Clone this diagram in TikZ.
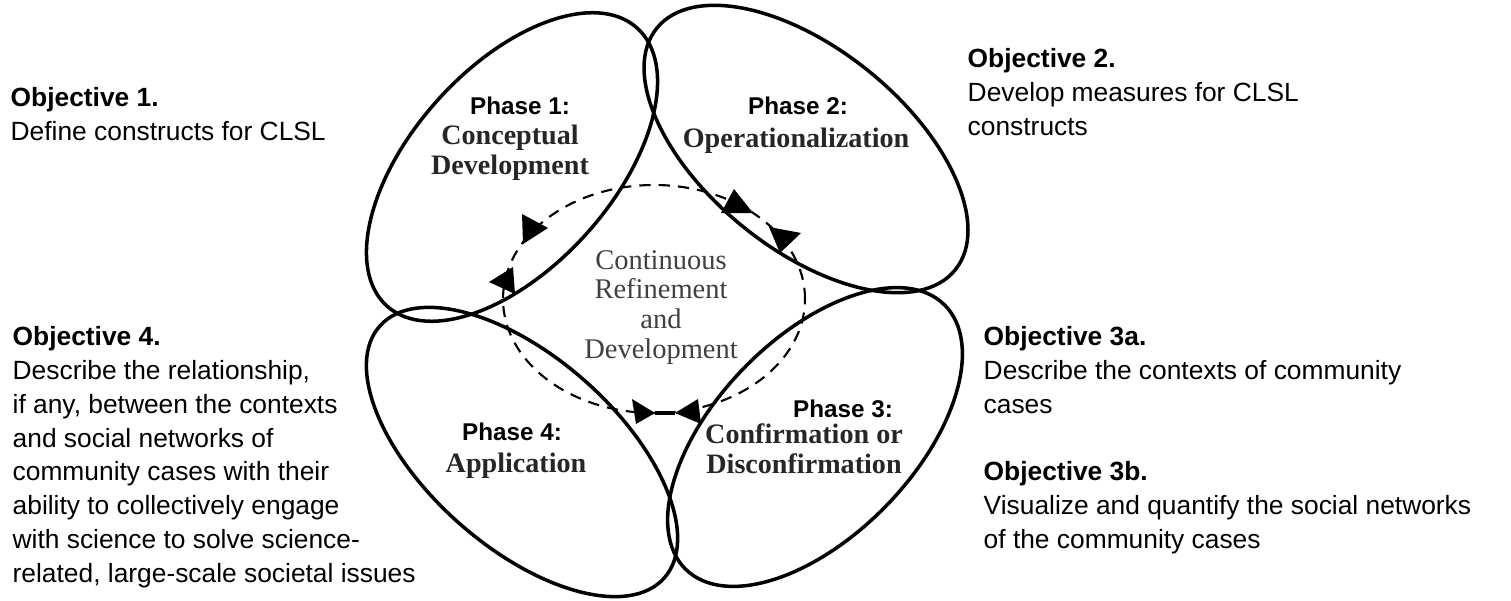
\documentclass[tikz,border=0pt]{standalone}
\usepackage{fontspec}
\setmainfont{Liberation Serif}
\setsansfont{Liberation Sans}
\begin{document}
\begin{tikzpicture}[
    objtext/.style={font=\sffamily\fontsize{7.5}{9.6}\selectfont, anchor=base west, align=left, inner sep=0pt},
    phasehead/.style={font=\sffamily\bfseries\fontsize{6.9}{8.5}\selectfont, anchor=base, inner sep=0pt},
    phasename/.style={font=\rmfamily\bfseries\fontsize{8}{8.3}\selectfont, anchor=base, align=center, inner sep=0pt, text=black!85},
    loopname/.style={font=\rmfamily\fontsize{8.1}{8.4}\selectfont, anchor=base, align=center, inner sep=0pt, text=black!75},
    phaseline/.style={line width=1pt},
    loopline/.style={line width=0.6pt, dash pattern=on 3.2pt off 2.3pt}
]
        \useasboundingbox (0, 0) rectangle (15.11, 6);

        % Draw the four phase ellipses
        \foreach \x/\y/\rx/\ry/\r in {
            5.12/4.33/1.87/1.00/48, 8.06/4.51/1.92/1.00/-39,
            8.15/1.63/1.85/0.99/45.7, 5.22/1.48/1.90/0.95/-41.5
        }
        \draw[phaseline, rotate around={\r:(\x, \y)}] (\x, \y) ellipse ({\rx} and {\ry});

        % Dashed loop in the middle
        \draw[loopline] (6.54, 3.01) ellipse (1.51 and 1.14);

        % Arrow heads on the loop
        \foreach \ax/\ay/\bx/\by/\cx/\cy in {
            5.22/3.86/5.23/3.56/5.48/3.72, 4.89/3.18/5.13/3.33/5.15/3.06,
            7.21/3.87/7.53/3.87/7.34/4.11, 7.69/3.73/8.01/3.67/7.80/3.47,
            6.32/2.01/6.36/1.76/6.55/1.87, 6.75/1.87/6.98/2.01/7.01/1.76
        }
        \fill (\ax, \ay) -- (\bx, \by) -- (\cx, \cy) -- cycle;
        % Join the two bottom heads
        \draw[phaseline] (6.55, 1.87) -- (6.75, 1.87);

        % Phase labels (multi-line nodes sit on their last line)
        \node[phasehead] (p1h) at (5.20, 4.85) {Phase 1:};
        \node[phasename] (p1) at (5.10, 4.26) {Conceptual\\Development};
        \node[phasehead] (p2h) at (7.98, 4.85) {Phase 2:};
        \node[phasename] (p2) at (7.96, 4.53) {Operationalization};
        \node[phasehead] (p3h) at (8.43, 1.83) {Phase 3:};
        \node[phasename] (p3) at (8.04, 1.27) {Confirmation or\\Disconfirmation};
        \node[phasehead] (p4h) at (5.12, 1.60) {Phase 4:};
        \node[phasename] (p4) at (5.16, 1.28) {Application};
        \node[loopname] (loop) at (6.61, 2.42) {Continuous\\Refinement\\and\\Development};

        % Objectives on both sides
        \node[objtext] (obj1) at (0.10, 4.60) {\textbf{Objective 1.}\\Define constructs for CLSL};
        \node[objtext] (obj2) at (9.67, 4.65) {\textbf{Objective 2.}\\Develop measures for CLSL\\constructs};
        \node[objtext] (obj3a) at (9.83, 1.87) {\textbf{Objective 3a.}\\Describe the contexts of community\\cases};
        \node[objtext] (obj3b) at (9.83, 0.52) {\textbf{Objective 3b.}\\Visualize and quantify the social networks\\of the community cases};
        \node[objtext] (obj4) at (0.12, 0.18) {\textbf{Objective 4.}\\Describe the relationship,\\if any, between the contexts\\and social networks of\\community cases with their\\ability to collectively engage\\with science to solve science-\\related, large-scale societal issues};
    \end{tikzpicture}
\end{document}
